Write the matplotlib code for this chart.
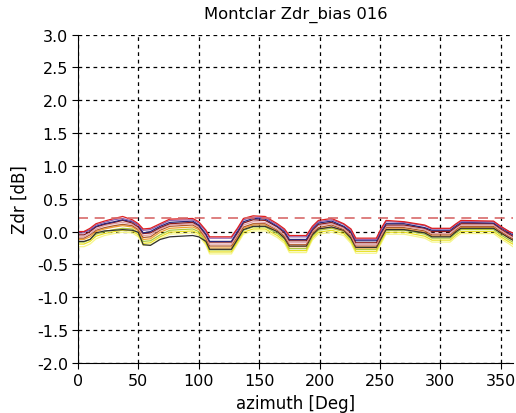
import matplotlib
matplotlib.use("Agg")
import matplotlib.pyplot as plt

# azimuth knots (deg) shared by all sweeps
azimuth = [0, 5, 10, 15, 22,
           30, 37, 45, 50, 54,
           60, 68, 76, 95, 100,
           106, 109, 127, 132, 137,
           145, 155, 165, 171, 175,
           189, 194, 199, 210, 220,
           226, 230, 247, 251, 255,
           270, 287, 293, 308, 313,
           317, 344, 350, 357, 360]

zdr_red = [0.00, 0.00, 0.05, 0.12, 0.16,
           0.20, 0.23, 0.18, 0.12, 0.04,
           0.05, 0.12, 0.19, 0.20, 0.15,
           0.02, -0.08, -0.08, 0.05, 0.20,
           0.24, 0.23, 0.12, 0.04, -0.06,
           -0.06, 0.08, 0.17, 0.20, 0.12,
           0.04, -0.10, -0.10, 0.05, 0.17,
           0.15, 0.10, 0.05, 0.05, 0.12,
           0.17, 0.16, 0.08, 0.00, -0.02]

zdr_purple = [-0.02, -0.02, 0.03, 0.10, 0.14,
              0.18, 0.20, 0.16, 0.10, 0.02,
              0.03, 0.10, 0.17, 0.18, 0.13,
              0.00, -0.10, -0.10, 0.03, 0.18,
              0.22, 0.21, 0.10, 0.02, -0.08,
              -0.08, 0.06, 0.15, 0.18, 0.11,
              0.02, -0.12, -0.12, 0.03, 0.15,
              0.14, 0.09, 0.04, 0.04, 0.11,
              0.15, 0.15, 0.07, 0.00, -0.03]

zdr_navy = [0.00, 0.00, 0.02, 0.08, 0.12,
            0.15, 0.18, 0.15, 0.10, -0.02,
            0.00, 0.08, 0.14, 0.16, 0.10,
            -0.04, -0.15, -0.15, 0.00, 0.15,
            0.20, 0.19, 0.08, 0.00, -0.12,
            -0.12, 0.04, 0.13, 0.16, 0.08,
            0.00, -0.14, -0.14, 0.00, 0.12,
            0.12, 0.06, 0.02, 0.02, 0.09,
            0.14, 0.13, 0.06, -0.02, -0.05]

zdr_darkred = [-0.05, -0.05, 0.00, 0.07, 0.11,
               0.14, 0.17, 0.13, 0.07, -0.03,
               -0.02, 0.06, 0.12, 0.14, 0.09,
               -0.05, -0.16, -0.16, -0.02, 0.13,
               0.18, 0.17, 0.07, -0.02, -0.14,
               -0.14, 0.02, 0.11, 0.14, 0.07,
               -0.02, -0.17, -0.17, -0.02, 0.10,
               0.10, 0.05, 0.00, 0.00, 0.07,
               0.12, 0.12, 0.04, -0.04, -0.07]

zdr_pink = [-0.08, -0.08, -0.03, 0.04, 0.09,
            0.12, 0.14, 0.11, 0.05, -0.06,
            -0.05, 0.04, 0.10, 0.12, 0.07,
            -0.08, -0.19, -0.19, -0.05, 0.10,
            0.15, 0.14, 0.04, -0.05, -0.17,
            -0.17, 0.00, 0.09, 0.12, 0.05,
            -0.05, -0.20, -0.20, -0.05, 0.08,
            0.08, 0.03, -0.03, -0.03, 0.05,
            0.10, 0.10, 0.02, -0.06, -0.09]

zdr_brown = [-0.10, -0.10, -0.05, 0.02, 0.06,
             0.09, 0.11, 0.09, 0.03, -0.09,
             -0.08, 0.02, 0.08, 0.10, 0.05,
             -0.10, -0.22, -0.22, -0.07, 0.07,
             0.12, 0.12, 0.02, -0.07, -0.20,
             -0.20, -0.02, 0.06, 0.10, 0.03,
             -0.07, -0.22, -0.22, -0.07, 0.06,
             0.06, 0.01, -0.05, -0.05, 0.03,
             0.08, 0.08, 0.00, -0.08, -0.11]

zdr_black = [-0.15, -0.15, -0.12, -0.02, 0.01,
             0.02, 0.03, 0.02, -0.01, -0.20,
             -0.21, -0.12, -0.08, -0.06, -0.08,
             -0.15, -0.27, -0.27, -0.12, 0.03,
             0.08, 0.08, 0.00, -0.10, -0.22,
             -0.22, -0.05, 0.04, 0.07, 0.02,
             -0.10, -0.24, -0.24, -0.10, 0.03,
             0.03, -0.02, -0.08, -0.08, 0.00,
             0.05, 0.05, -0.02, -0.10, -0.13]

zdr_orange = [-0.12, -0.12, -0.08, 0.00, 0.04,
              0.07, 0.09, 0.07, 0.01, -0.12,
              -0.11, -0.01, 0.05, 0.07, 0.03,
              -0.12, -0.25, -0.25, -0.10, 0.05,
              0.10, 0.10, 0.00, -0.09, -0.23,
              -0.23, -0.04, 0.04, 0.07, 0.01,
              -0.09, -0.25, -0.25, -0.09, 0.04,
              0.04, -0.01, -0.07, -0.07, 0.01,
              0.06, 0.06, -0.02, -0.10, -0.13]

zdr_green = [-0.16, -0.16, -0.12, -0.04, 0.00,
             0.03, 0.05, 0.04, -0.02, -0.15,
             -0.14, -0.05, 0.02, 0.04, 0.00,
             -0.15, -0.28, -0.28, -0.13, 0.02,
             0.07, 0.07, -0.03, -0.12, -0.26,
             -0.26, -0.07, 0.02, 0.05, 0.00,
             -0.12, -0.27, -0.27, -0.12, 0.02,
             0.02, -0.04, -0.10, -0.10, -0.02,
             0.03, 0.03, -0.05, -0.13, -0.16]

zdr_yellow = [-0.19, -0.19, -0.15, -0.07, -0.03,
              0.00, 0.02, 0.01, -0.05, -0.18,
              -0.17, -0.08, -0.01, 0.01, -0.03,
              -0.18, -0.31, -0.31, -0.16, -0.01,
              0.04, 0.04, -0.06, -0.15, -0.29,
              -0.29, -0.10, -0.01, 0.02, -0.03,
              -0.15, -0.30, -0.30, -0.15, -0.01,
              -0.01, -0.07, -0.13, -0.13, -0.05,
              0.00, 0.00, -0.08, -0.16, -0.19]

zdr_lightyellow = [-0.23, -0.23, -0.19, -0.11, -0.06,
                   -0.03, -0.01, -0.02, -0.08, -0.21,
                   -0.20, -0.11, -0.04, -0.02, -0.06,
                   -0.21, -0.34, -0.34, -0.19, -0.04,
                   0.01, 0.01, -0.09, -0.18, -0.32,
                   -0.32, -0.13, -0.04, -0.01, -0.06,
                   -0.18, -0.33, -0.33, -0.18, -0.04,
                   -0.04, -0.10, -0.16, -0.16, -0.08,
                   -0.03, -0.03, -0.11, -0.19, -0.23]

bias_limit = 0.2

series = [
    (zdr_lightyellow, '#f6f68a'),
    (zdr_yellow, '#e8e020'),
    (zdr_green, '#a8c83c'),
    (zdr_orange, '#f0a030'),
    (zdr_black, '#303030'),
    (zdr_brown, '#b05a28'),
    (zdr_pink, '#e0a0a8'),
    (zdr_darkred, '#8b1a1a'),
    (zdr_navy, '#28287a'),
    (zdr_purple, '#9060b0'),
    (zdr_red, '#e02020'),
]

fig = plt.figure(figsize=(5.16, 4.14), dpi=100)
ax = fig.add_axes([0.151, 0.121, 0.843, 0.793])

for vals, col in series:
    ax.plot(azimuth, vals, color=col, linewidth=0.9)

ax.axhline(bias_limit, color='#d86a6a', linestyle=(0, (6, 4)), linewidth=1.2)

ax.set_xlim(0, 360)
ax.set_ylim(-2.0, 3.0)
ax.set_xticks([0, 50, 100, 150, 200, 250, 300, 350])
ax.set_yticks([-2.0, -1.5, -1.0, -0.5, 0.0, 0.5, 1.0, 1.5, 2.0, 2.5, 3.0])
ax.set_yticklabels([f"{v:.1f}" for v in ax.get_yticks()])
ax.grid(True, color='black', linestyle=(0, (3, 3)), linewidth=0.9)

ax.spines['top'].set_visible(False)
ax.spines['right'].set_visible(False)
ax.tick_params(direction='out', length=4, pad=3, labelsize=11.5)

ax.set_title('Montclar Zdr_bias 016', fontsize=11.8, pad=12)
ax.set_xlabel('azimuth [Deg]', fontsize=12, labelpad=4.5)
ax.set_ylabel('Zdr [dB]', fontsize=12, labelpad=6)

fig.savefig('out.png', dpi=100)
